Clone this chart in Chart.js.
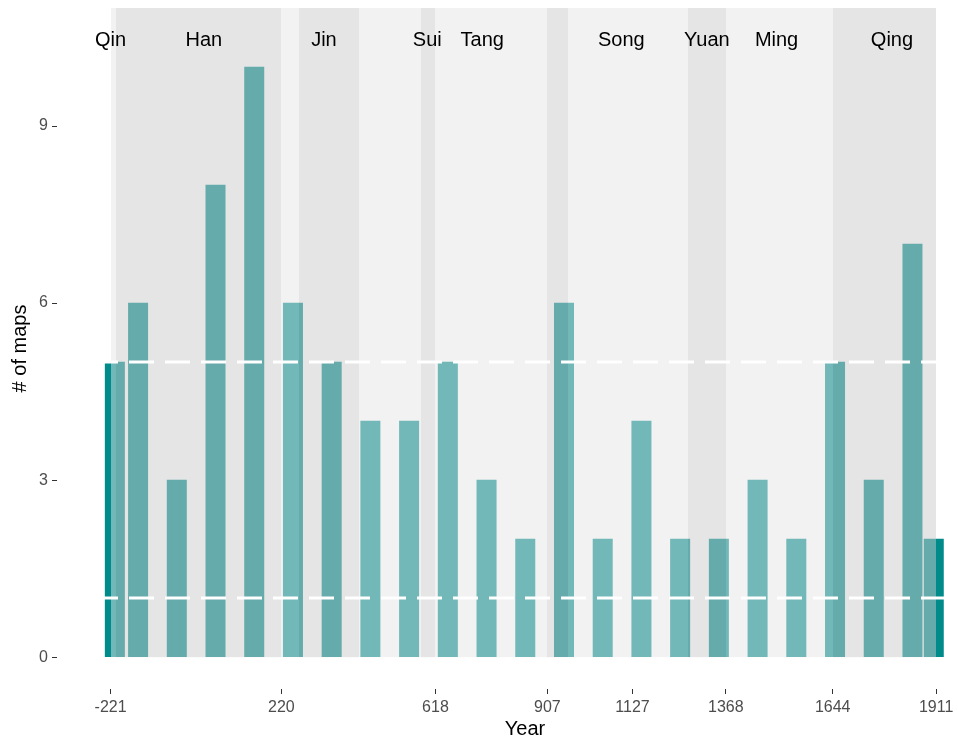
<!DOCTYPE html>
<html><head><meta charset="utf-8">
<script src="https://cdn.jsdelivr.net/npm/chart.js@4/dist/chart.umd.min.js"></script>
<style>html,body{margin:0;padding:0;overflow:hidden;background:#fff}#wrap{width:1000px;height:743px}</style>
</head><body><div id="wrap"><canvas id="c" width="1000" height="743"></canvas></div>
<script>
// ---- data ----
const barYears = [-210, -150, -50, 50, 150, 250, 350, 450, 550, 650, 750, 850, 950, 1050, 1150, 1250, 1350, 1450, 1550, 1650, 1750, 1850, 1905];
const mapCounts = [5, 6, 3, 8, 10, 6, 5, 4, 4, 5, 3, 2, 6, 2, 4, 2, 2, 3, 2, 5, 3, 7, 2];
const barWidthYears = 50;
const bandStarts = [-221, -206, 220, 265, 420, 581, 618, 907, 960, 1271, 1368, 1644];
const bandEnds   = [-206, 220, 265, 420, 581, 618, 907, 960, 1271, 1368, 1644, 1911];
const bandShades = ['light','dark','light','dark','light','dark','light','dark','light','dark','light','dark'];
const dynastyNames = ['Qin', 'Han', 'Jin', 'Sui', 'Tang', 'Song', 'Yuan', 'Ming', 'Qing'];
const dynastyLabelYears = [-221, 20, 330, 597, 739, 1098, 1319, 1499, 1797];
const dynastyLabelLevel = 10.45;
const refLines = [1, 5];
const xTickYears = [-221, 220, 618, 907, 1127, 1368, 1644, 1911];
const yTickValues = [0, 3, 6, 9];
const xDomain = [-359.4, 2058];
const yDomain = [-0.54, 11.0];

const FAM = '"Liberation Sans", Arial, sans-serif';

const overlay = {
  id: 'overlay',
  afterDatasetsDraw(chart) {
    const {ctx, chartArea: a, scales: {x, y}} = chart;
    ctx.save();
    ctx.beginPath(); ctx.rect(a.left, a.top, a.right - a.left, a.bottom - a.top); ctx.clip();
    const y0 = y.getPixelForValue(0);
    bandStarts.forEach((s, i) => {
      const x1 = Math.round(x.getPixelForValue(s)), x2 = Math.round(x.getPixelForValue(bandEnds[i]));
      ctx.fillStyle = bandShades[i] === 'light' ? 'rgba(229,229,229,0.5)' : 'rgba(204,204,204,0.5)';
      ctx.fillRect(x1, a.top, x2 - x1, y0 - a.top);
    });
    ctx.strokeStyle = '#ffffff'; ctx.lineWidth = 3; ctx.setLineDash([25, 11]);
    refLines.forEach(v => {
      const py = y.getPixelForValue(v);
      ctx.beginPath(); ctx.moveTo(a.left, py); ctx.lineTo(a.right, py); ctx.stroke();
    });
    ctx.setLineDash([]);
    ctx.fillStyle = '#000'; ctx.font = '20px ' + FAM; ctx.textAlign = 'center'; ctx.textBaseline = 'middle';
    dynastyNames.forEach((n, i) => ctx.fillText(n, x.getPixelForValue(dynastyLabelYears[i]), y.getPixelForValue(dynastyLabelLevel)));
    ctx.restore();
  }
};

const axisCommon = (title, titlePad) => ({
  type: 'linear',
  offset: false,
  ticks: { color: '#4D4D4D', font: { size: 16, family: FAM }, padding: 4, autoSkip: false, maxRotation: 0, callback: v => String(v) },
  grid: { offset: false, drawOnChartArea: false, drawTicks: true, tickLength: 5, tickColor: '#333333', color: '#333333', lineWidth: 1 },
  border: { display: false },
  title: { display: true, text: title, color: '#000', font: { size: 20, family: FAM }, padding: titlePad }
});

const xAxis = Object.assign(axisCommon('Year', {top: 0, bottom: 2}), {
  min: xDomain[0], max: xDomain[1],
  afterBuildTicks: s => { s.ticks = xTickYears.map(v => ({value: v})); },
  afterFit: s => { s.height = 54; s.paddingLeft = 0; s.paddingRight = 0; }
});
const yAxis = Object.assign(axisCommon('# of maps', {top: 8, bottom: 0}), {
  min: yDomain[0], max: yDomain[1],
  afterBuildTicks: s => { s.ticks = yTickValues.map(v => ({value: v})); },
  afterFit: s => { s.width = 57; s.paddingTop = 0; s.paddingBottom = 0; }
});

const chart = new Chart(document.getElementById('c'), {
  type: 'bar',
  data: {
    datasets: [{
      data: barYears.map((yr, i) => ({x: yr, y: mapCounts[i]})),
      backgroundColor: '#008B8B',
      borderWidth: 0
    }]
  },
  options: {
    responsive: false,
    devicePixelRatio: 1,
    animation: false,
    layout: { padding: { left: 0, right: 7, top: 8, bottom: 0 } },
    plugins: { legend: { display: false }, tooltip: { enabled: false } },
    scales: { x: xAxis, y: yAxis }
  },
  plugins: [overlay]
});
const xs = chart.scales.x;
chart.data.datasets[0].barThickness = xs.getPixelForValue(barWidthYears) - xs.getPixelForValue(0);
chart.update('none');
</script>
</body></html>
